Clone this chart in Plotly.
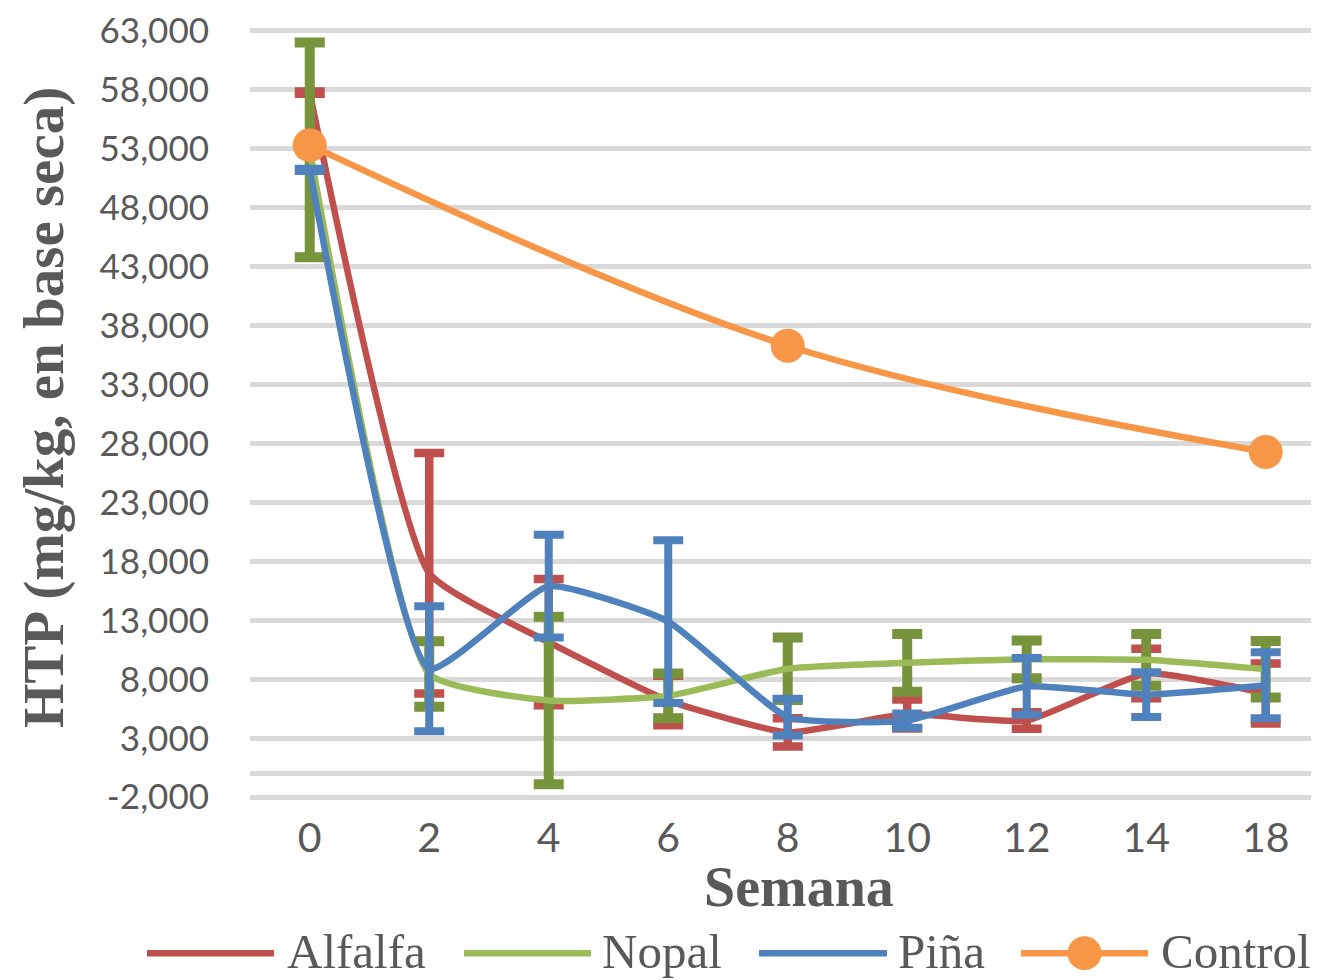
import plotly.graph_objects as go

# ---------------- data ----------------
weeks = ['0', '2', '4', '6', '8', '10', '12', '14', '18']
alfalfa = [57750, 17000, 11150, 6200, 3500, 5050, 4500, 8500, 6800]
alfalfa_err = [100, 10200, 5350, 2100, 1200, 1230, 700, 2100, 2550]
nopal = [52900, 8450, 6200, 6600, 8900, 9400, 9700, 9650, 8850]
nopal_err = [9100, 2780, 7100, 1900, 2650, 2450, 1600, 2200, 2400]
pina = [51200, 8900, 15900, 12900, 4800, 4500, 7400, 6700, 7500]
pina_err = [100, 5300, 4350, 6900, 1560, 600, 2400, 1900, 2800]
control = [53300, None, None, None, 36290, None, None, None, 27280]

y_tick_vals = [-2000, 3000, 8000, 13000, 18000, 23000, 28000, 33000, 38000,
               43000, 48000, 53000, 58000, 63000]
y_tick_text = ['-2,000', '3,000', '8,000', '13,000', '18,000', '23,000', '28,000',
               '33,000', '38,000', '43,000', '48,000', '53,000', '58,000', '63,000']

series_names = ['Alfalfa', 'Nopal', 'Piña', 'Control']

# ---------------- styling ----------------
OFF = 8  # default page body margin
W, H = 1319 - OFF, 980 - OFF
L, R, T, B = 250 - OFF, 0, 17, 181
PW, PH = W - L - R, H - T - B

RED = '#C0504D'
GREEN = '#9BBB59'
GREEN_DARK = '#77933C'
BLUE = '#4F81BD'
ORANGE = '#F79646'
GRID = '#D9D9D9'
TXT = '#595959'
SERIF = 'Liberation Serif, Times New Roman, serif'
SANS = 'Lato, Carlito, Calibri, sans-serif'
SMOOTH = 0.45


def px_x(x):
    # page pixel -> paper coordinate
    return (x - OFF - L) / PW


def px_y(y):
    return (H - B - (y - OFF)) / PH


fig = go.Figure()

fig.add_trace(go.Scatter(
    x=weeks, y=alfalfa, name=series_names[0], mode='lines',
    line=dict(color=RED, width=6.5, shape='spline', smoothing=SMOOTH),
    error_y=dict(type='data', array=alfalfa_err, visible=True, color=RED,
                 thickness=8.5, width=15),
))
fig.add_trace(go.Scatter(
    x=weeks, y=nopal, name=series_names[1], mode='lines',
    line=dict(color=GREEN, width=6.5, shape='spline', smoothing=SMOOTH),
    error_y=dict(type='data', array=nopal_err, visible=True, color=GREEN_DARK,
                 thickness=10, width=15),
))
fig.add_trace(go.Scatter(
    x=weeks, y=pina, name=series_names[2], mode='lines',
    line=dict(color=BLUE, width=6.5, shape='spline', smoothing=SMOOTH),
    error_y=dict(type='data', array=pina_err, visible=True, color=BLUE,
                 thickness=8, width=15),
))
fig.add_trace(go.Scatter(
    x=weeks, y=control, name=series_names[3], mode='lines+markers',
    connectgaps=True,
    line=dict(color=ORANGE, width=6.5, shape='spline', smoothing=1),
    marker=dict(color=ORANGE, size=34, line=dict(width=0)),
))

# ---------------- manual legend (matching Excel look) ----------------
leg_y = px_y(954)
legend_items = [
    (147, 274, 285, RED, False),
    (464, 591, 600, GREEN, False),
    (759, 887, 896, BLUE, False),
    (1021, 1148, 1159, ORANGE, True),
]
shapes = []
annotations = []
for (x0, x1, xt, col, mk), name in zip(legend_items, series_names):
    shapes.append(dict(type='line', xref='paper', yref='paper',
                       x0=px_x(x0), x1=px_x(x1), y0=leg_y, y1=leg_y,
                       line=dict(color=col, width=6.5)))
    if mk:
        cx = (x0 + x1) / 2
        shapes.append(dict(type='circle', xref='paper', yref='paper',
                           x0=px_x(cx - 17), x1=px_x(cx + 17),
                           y0=px_y(954 + 17), y1=px_y(954 - 17),
                           fillcolor=col, line=dict(width=0)))
    annotations.append(dict(text=name, xref='paper', yref='paper',
                            x=px_x(xt), y=px_y(952), xanchor='left', yanchor='middle',
                            showarrow=False,
                            font=dict(family=SERIF, size=49, color=TXT)))

# axis titles
annotations.append(dict(text='<b>HTP (mg/kg, en base seca)</b>', xref='paper', yref='paper',
                        x=px_x(44), y=px_y(406), xanchor='center', yanchor='middle',
                        textangle=-90, showarrow=False,
                        font=dict(family=SERIF, size=57, color=TXT)))
annotations.append(dict(text='<b>Semana</b>', xref='paper', yref='paper',
                        x=px_x(799), y=px_y(887), xanchor='center', yanchor='middle',
                        showarrow=False,
                        font=dict(family=SERIF, size=56, color=TXT)))

fig.update_layout(
    width=W, height=H,
    margin=dict(l=L, r=R, t=T, b=B, pad=0),
    paper_bgcolor='white', plot_bgcolor='white',
    showlegend=False,
    shapes=shapes,
    annotations=annotations,
    xaxis=dict(
        type='category', categoryorder='array', categoryarray=weeks,
        range=[-0.5, 8.446],
        showgrid=False, zeroline=False, showline=False, ticks='',
        tickfont=dict(family=SANS, size=41, color=TXT),
        ticklabelstandoff=11,
    ),
    yaxis=dict(
        range=[-2150, 63150],
        tickvals=y_tick_vals, ticktext=y_tick_text,
        showgrid=True, gridcolor=GRID, gridwidth=5,
        zeroline=True, zerolinecolor=GRID, zerolinewidth=5,
        showline=False, ticks='',
        tickfont=dict(family=SANS, size=35, color=TXT),
        ticklabelstandoff=40,
        ticklabeloverflow='allow',
    ),
)

fig.write_html('out.html')
